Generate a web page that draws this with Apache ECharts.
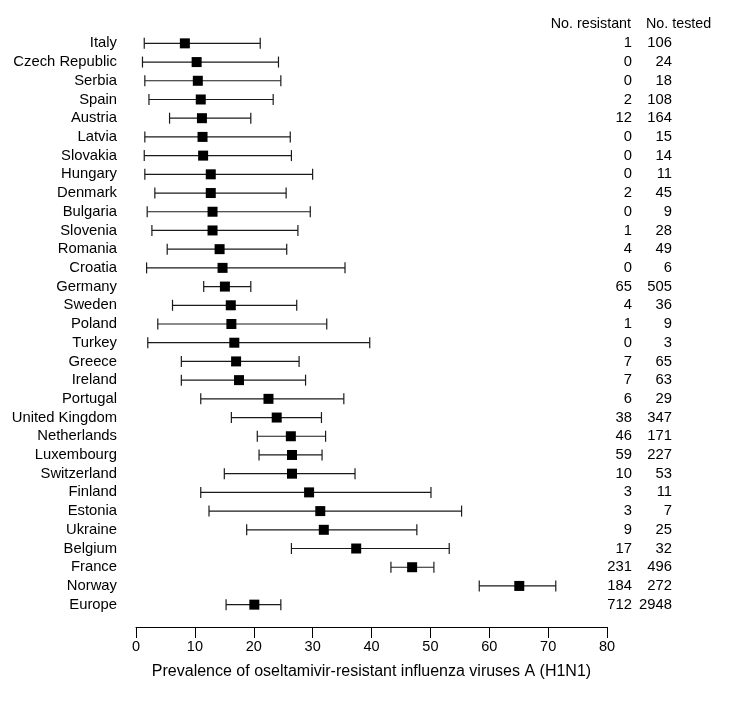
<!DOCTYPE html>
<html>
<head>
<meta charset="utf-8">
<script src="https://cdn.jsdelivr.net/npm/echarts@6/dist/echarts.min.js"></script>
<style>html,body{margin:0;padding:0;background:#fff}#c{width:732px;height:708px}</style>
</head>
<body>
<div id="c"></div>
<script>
const countries = ["Italy","Czech Republic","Serbia","Spain","Austria","Latvia","Slovakia","Hungary","Denmark","Bulgaria","Slovenia","Romania","Croatia","Germany","Sweden","Poland","Turkey","Greece","Ireland","Portugal","United Kingdom","Netherlands","Luxembourg","Switzerland","Finland","Estonia","Ukraine","Belgium","France","Norway","Europe"];
const estimate = [8.3,10.3,10.5,11.0,11.2,11.3,11.4,12.7,12.7,13.0,13.0,14.2,14.7,15.1,16.1,16.2,16.7,17.0,17.5,22.5,23.9,26.3,26.5,26.5,29.4,31.3,31.9,37.4,46.9,65.1,20.1];
const lower = [1.4,1.1,1.5,2.2,5.7,1.5,1.4,1.5,3.2,1.9,2.7,5.3,1.8,11.5,6.2,3.7,2.0,7.7,7.7,11.0,16.2,20.6,20.9,15.0,11.0,12.4,18.8,26.4,43.3,58.3,15.3];
const upper = [21.1,24.2,24.6,23.3,19.5,26.2,26.4,30.0,25.5,29.6,27.5,25.6,35.5,19.5,27.3,32.4,39.7,27.7,28.8,35.3,31.5,32.2,31.6,37.2,50.1,55.3,47.7,53.2,50.6,71.3,24.6];
const resistant = [1,0,0,2,12,0,0,0,2,0,1,4,0,65,4,1,0,7,7,6,38,46,59,10,3,3,9,17,231,184,712];
const tested = [106,24,18,108,164,15,14,11,45,9,28,49,6,505,36,9,3,65,63,29,347,171,227,53,11,7,25,32,496,272,2948];
const xMin = 0, xMax = 80, xStep = 10;
const xTitle = "Prevalence of oseltamivir-resistant influenza viruses A (H1N1)";
const headResistant = "No. resistant", headTested = "No. tested";

const FONT = "'Liberation Sans', Arial, sans-serif";
const chart = echarts.init(document.getElementById('c'), null, {renderer: 'canvas'});

const ciData = countries.map((c, i) => [i, lower[i], upper[i]]);
const ptData = countries.map((c, i) => [estimate[i], i]);

const catAxisBase = {
  type: 'category', inverse: true, gridIndex: 0,
  axisLine: {show: false}, axisTick: {show: false}, splitLine: {show: false}
};
const catLabel = {color: '#000', fontSize: 14.8, fontFamily: FONT, interval: 0, hideOverlap: false};

chart.setOption({
  animation: false,
  backgroundColor: '#fff',
  grid: {left: 136, right: 125, top: 34, bottom: 94},
  xAxis: {
    type: 'value', min: xMin, max: xMax, interval: xStep, offset: 13,
    axisLine: {show: true, lineStyle: {color: '#000', width: 1}},
    axisTick: {show: true, length: 11, lineStyle: {color: '#000', width: 1}},
    splitLine: {show: false},
    axisLabel: {color: '#000', fontSize: 14.5, fontFamily: FONT, margin: 12},
    name: xTitle, nameLocation: 'middle', nameGap: 37,
    nameTextStyle: {color: '#000', fontSize: 16, fontFamily: FONT}
  },
  yAxis: [
    Object.assign({}, catAxisBase, {
      position: 'left', data: countries,
      axisLabel: Object.assign({}, catLabel, {margin: 19})
    }),
    Object.assign({}, catAxisBase, {
      position: 'right', data: resistant.map(String),
      axisLabel: Object.assign({}, catLabel, {margin: 25, align: 'right'})
    }),
    Object.assign({}, catAxisBase, {
      position: 'right', data: tested.map(String),
      axisLabel: Object.assign({}, catLabel, {margin: 65, align: 'right'})
    })
  ],
  graphic: [
    {type: 'text', right: 732 - 631, top: 17, style: {text: headResistant, fill: '#000', font: '14.3px ' + FONT, align: 'right'}},
    {type: 'text', left: 646, top: 17, style: {text: headTested, fill: '#000', font: '14.3px ' + FONT}}
  ],
  series: [
    {
      type: 'custom', xAxisIndex: 0, yAxisIndex: 0, z: 2,
      data: ciData,
      encode: {x: [1, 2], y: 0},
      renderItem: function (params, api) {
        const cat = api.value(0);
        const a = api.coord([api.value(1), cat]);
        const b = api.coord([api.value(2), cat]);
        const h = 5.5;
        const st = {stroke: '#1a1a1a', lineWidth: 1.2};
        return {
          type: 'group',
          children: [
            {type: 'line', shape: {x1: a[0], y1: a[1], x2: b[0], y2: b[1]}, style: st},
            {type: 'line', shape: {x1: a[0], y1: a[1] - h, x2: a[0], y2: a[1] + h}, style: st},
            {type: 'line', shape: {x1: b[0], y1: b[1] - h, x2: b[0], y2: b[1] + h}, style: st}
          ]
        };
      }
    },
    {
      type: 'scatter', xAxisIndex: 0, yAxisIndex: 0, z: 3,
      symbol: 'rect', symbolSize: 10,
      itemStyle: {color: '#000', opacity: 1},
      data: ptData
    }
  ]
});
</script>
</body>
</html>
